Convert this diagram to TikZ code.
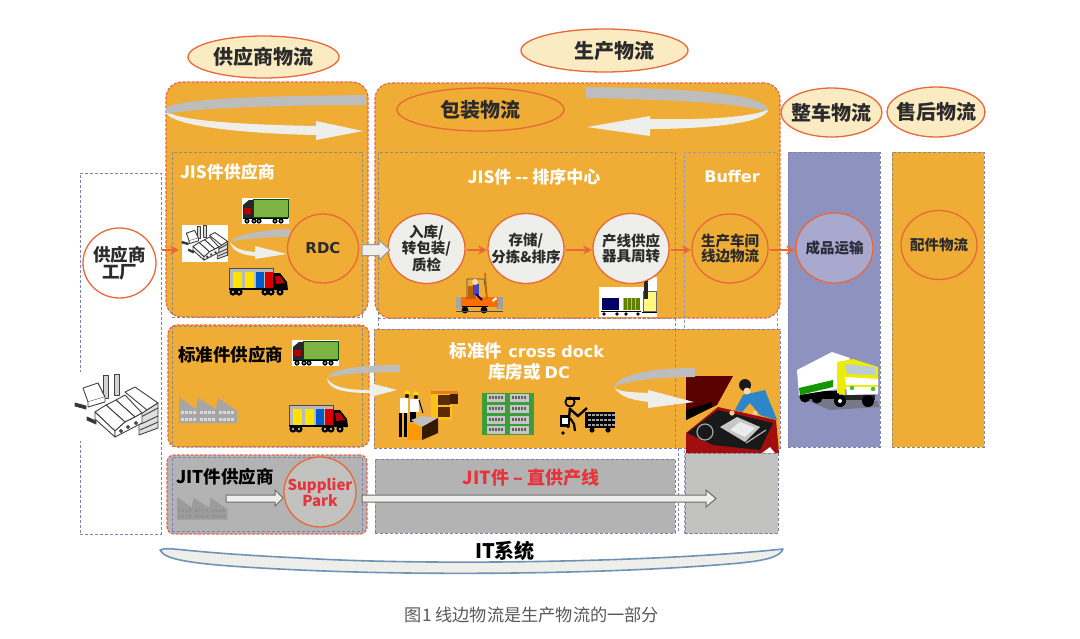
\documentclass[tikz,border=0pt]{standalone}
\usepackage{fontspec}
\setmainfont{Noto Sans CJK SC}
\newfontfamily\latinb{DejaVu Sans}
\usetikzlibrary{shapes.geometric,calc,arrows.meta}
\definecolor{gold}{HTML}{EFAD35}
\definecolor{redline}{HTML}{E8654A}
\definecolor{ringc}{HTML}{E9683A}
\definecolor{cream}{HTML}{FBEBC2}
\definecolor{violetbox}{HTML}{8E92BF}
\definecolor{violetc}{HTML}{A9A9D0}
\definecolor{bluedash}{HTML}{7C80B4}
\definecolor{greydash}{HTML}{8D8A80}
\definecolor{swirlg}{HTML}{BDBDBD}
\definecolor{swirll}{HTML}{EEEEEA}
\definecolor{jitg}{HTML}{B3B3B3}
\definecolor{jitr}{HTML}{C2C2C0}
\definecolor{inkc}{HTML}{2B2B2B}
\definecolor{redtext}{HTML}{E5343C}
\definecolor{itblue}{HTML}{6F93B5}
\definecolor{truckgreen}{HTML}{7CB342}
\newcommand{\fs}[1]{\fontsize{#1}{#1}\selectfont}
% ring node (fixed size) with its text in a companion node
\newcommand{\ringn}[6]{%
 \node[#1,minimum width=#4,minimum height=#5] (#2) at (#3) {};
 \node[#1,shape=rectangle,draw=none,fill=none,minimum width=0pt,minimum height=0pt] (#2t) at (#3) {#6};}
\tikzset{
 x=1pt,y=-1pt,
 base/.style={inner sep=0pt,outer sep=0pt},
 headell/.style={base,ellipse,draw=ringc,line width=1.3pt,fill=cream,font=\fs{20}\bfseries,text=inkc},
 goldbox/.style={base,rectangle,fill=gold,draw=redline,line width=1.2pt,dash pattern=on 3pt off 1.5pt,rounded corners=16pt},
 inner/.style={base,rectangle,draw=greydash,line width=.8pt,dash pattern=on 3pt off 2pt},
 plainbox/.style={base,rectangle,draw=bluedash,line width=.9pt,dash pattern=on 3pt off 2pt},
 step circle/.style={base,ellipse,draw=ringc,line width=1.3pt,fill=swirll,align=center,font=\fs{14.5}\bfseries,text=inkc},
 gold circle/.style={step circle,fill=gold,text=inkc},
 whitelabel/.style={base,text=white,font=\fs{17.5}\bfseries,align=center},
 blacklabel/.style={base,text=black,font=\fs{17.5}\bfseries},
 oarrow/.style={draw=ringc,line width=1.4pt,shorten >=1pt,shorten <=2pt,-{Stealth[length=9pt,width=9pt]}},
 blockarrow/.style={fill=swirll,draw=gray!85!black,line width=1pt,line join=miter},
 sawfac/.pic={
  \fill[sawcol] (0,26) -- (0,0) -- (17,12) -- (19,1) -- (37,12) -- (39,1) -- (58,14) -- (58,26) -- cycle;
  \foreach \r in {14,21}{\foreach \c in {2,6,10,14,21,25,29,33,40,44,48,52}{
    \fill[sawwin] (\c,\r) rectangle ++(2.6,3.4);}}
 },
 greentruck/.pic={
  \fill[white] (0,0) rectangle (47,26);
  \draw[fill=truckgreen,draw=black!70!green,line width=.8pt] (11,1) rectangle (46,19);
  \fill[black!85] (1,7) -- (7,2) -- (11,2) -- (11,20) -- (1,20) -- cycle;
  \fill[red!70!black] (2,10) rectangle (9,16);
  \fill[black] (1,19.5) rectangle (46,21);
  \foreach \w in {5,12,17,33,39}{\fill[black] (\w,23) circle (2.6); \fill[white] (\w,23) circle (.9);}
 },
 multitruck/.pic={
  \draw[fill=gray!55,draw=black!70,line width=1pt] (1,1) rectangle (45,21);
  \fill[yellow!85!orange] (5,5) rectangle (14,21);
  \fill[yellow!85!orange] (17,5) rectangle (26,21);
  \fill[blue!55!cyan!80!black] (28,5) rectangle (36,21);
  \fill[red!85!black] (37,5) rectangle (45,21);
  \fill[black] (45,6) -- (52,6) -- (59,15) -- (60,23) -- (45,23) -- cycle;
  \fill[red!75!black] (47,9) -- (52,9) -- (57,16) -- (48,17) -- cycle;
  \fill[black] (1,21) rectangle (46,23);
  \foreach \w in {5,11,37,43,52}{\fill[black] (\w,25) circle (3.6); \fill[gray!60] (\w,25) circle (1.4);}
 },
 bigfac/.pic={
  \tikzset{every path/.append style={draw=black!75,line width=.9pt,fill=white,line join=round}}
  \path[fill=gray!35] (28.3,23) -- (28.3,0) -- (33.3,0) -- (33.3,23) -- cycle;
  \path[fill=gray!35] (39.3,20) -- (39.3,-1) -- (44.3,-1) -- (44.3,20) -- cycle;
  \path (8,13) -- (23,8) -- (30,22) -- (13,27) -- cycle;
  \path (13,27) -- (13,32) -- (30,27) -- (30,22);
  \path[fill=white] (50,17) -- (60,12) -- (83,28) -- (72,35) -- cycle;
  \path[fill=gray!25] (72,35) -- (83,28) -- (83,53) -- (64,60) -- (64,40) -- cycle;
  \path (66,42) -- (83,33);
  \path (66,49) -- (83,41);
  \path (65,55) -- (83,47);
  \path (41,25) -- (50,20) -- (67,38) -- (60,42) -- cycle;
  \path (31,30) -- (41,25) -- (60,42) -- (50,47) -- cycle;
  \path (20,37) -- (31,30) -- (50,47) -- (40,56) -- cycle;
  \path (20,37) -- (40,56) -- (40,62) -- (20,44) -- cycle;
  \path (40,56) -- (50,47) -- (60,42) -- (67,38) -- (67,48) -- (40,62) -- cycle;
  \foreach \a/\b in {46/56,53/52,61/48}{\path[fill=black!60] (\a,\b) circle (1.5);}
  \path[fill=black!80] (0,28) -- (11,31) -- (11,34) -- (0,31) -- cycle;
  \path[fill=black!80] (12,42) -- (21,46) -- (21,49) -- (12,45) -- cycle;
 },
 forklift/.pic={
  \fill[gray!70] (0,24) rectangle (5,36);
  \fill[gray!75] (40,24) rectangle (47,36);
  \fill[orange!85!red] (5,24) rectangle (42,34);
  \fill[orange!75!black] (12,13) rectangle (20,26);
  \draw[black!70,line width=.8pt] (11,26) -- (11,6) -- (28,6) -- (31,26);
  \draw[orange!80!black,line width=1.6pt] (29,0) -- (31,26);
  \fill[blue!45!gray] (17,11) rectangle (23,22);
  \fill[orange!30!white] (19,9) circle (3);
  \draw[blue!50!black,line width=2pt] (20,21) -- (26,27);
  \fill[white] (36,27) -- (40,24) -- (41,26) -- (37,29) -- cycle;
  \fill[black] (9,37) circle (3.4);
  \fill[black] (28,37) circle (3.4);
  \fill[black!70] (0,38) rectangle (47,39);
  \draw[black,line width=.8pt] (6,33) -- (32,33);
 },
 palletcart/.pic={
  \fill[white] (0,10) rectangle (58,40);
  \fill[white] (46,0) rectangle (58,10);
  \fill[blue!40!black] (3,21) rectangle (20,33);
  \fill[lime!50!black] (24,21) rectangle (41,33);
  \foreach \c in {24,28,32,36}{\draw[yellow!60!olive,line width=.5pt] (\c,21) -- (\c,33);}
  \draw[black,line width=.8pt] (2,34) -- (42,34);
  \foreach \w in {5,18,27,39}{\fill[black] (\w,37) circle (1.8);}
  \fill[yellow!50!white] (44,14) rectangle (57,34);
  \draw[black!60,line width=.6pt] (44,14) rectangle (57,34);
  \fill[black] (47,4) circle (2.2);
  \fill[black!85] (45,6) rectangle (49,22);
  \draw[black,line width=.8pt] (43,35) -- (58,35);
 },
 workers/.pic={
  \fill[orange!55!yellow!90!white] (33,3) rectangle (54,30);
  \fill[black!65!orange] (40,5) rectangle (52,15);
  \fill[black!65!orange] (40,17) rectangle (52,27);
  \fill[black!75!orange] (52,2) rectangle (60,14);
  \fill[orange!60!brown] (33,1) rectangle (60,4);
  \fill[yellow!85!orange] (9,3) circle (2.6);
  \fill[yellow!85!orange] (18,4) circle (2.6);
  \fill[black!80!orange] (9,6) circle (2.2);
  \fill[black!80!orange] (18,7) circle (2.2);
  \fill[white] (2,8) rectangle (10,23);
  \fill[white] (12,9) rectangle (21,22);
  \fill[black] (1,23) rectangle (4,47);
  \fill[black] (6,23) rectangle (9,47);
  \fill[black] (12,22) rectangle (18,32);
  \draw[black,line width=1pt] (21,10) -- (25,23);
  \fill[gray!50] (13,30) -- (24,26) -- (40,28) -- (24,37) -- cycle;
  \fill[orange!80!yellow] (10,32) -- (24,37) -- (24,50) -- (10,50) -- cycle;
  \fill[black!80!orange] (24,37) -- (40,28) -- (40,43) -- (24,50) -- cycle;
 },
 shelves/.pic={
  \fill[green!45!gray!85!black] (0,0) rectangle (52,42);
  \foreach \r in {1,12,23,33}{
   \fill[gray!45] (5,\r) rectangle (23,\r+8);
   \fill[gray!45] (28,\r) rectangle (47,\r+8);
   \foreach \c in {7,10,13,16,19,30,33,36,39,42}{\fill[gray!75!black] (\c,\r+2) rectangle ++(2,3);}
  }
 },
 cartman/.pic={
  \draw[black,line width=1.8pt] (10,6) circle (4.6);
  \fill[black] (6,1) rectangle (20,4);
  \draw[black,line width=2.4pt] (10,12) -- (8,32);
  \draw[black,line width=2.4pt] (10,13) -- (18,20) -- (27,12);
  \draw[black,line width=2.2pt] (10,22) -- (14,28) -- (15,35);
  \fill[black] (0,19) rectangle (10,31);
  \fill[white] (2,22) rectangle (8,28);
  \fill[black] (3,37) circle (1.8);
  \fill[black] (25,16) rectangle (55,32);
  \foreach \r in {18,23,28}{\foreach \c in {28,32,...,52}{\fill[gray!75] (\c,\r) rectangle ++(3,2.4);}}
  \fill[black] (32,34) circle (2.6);
  \fill[black] (48,34) circle (2.6);
 },
 mechanic/.pic={
  \fill[red!65!black!90!gray] (0,58) -- (32,32) -- (90,45) -- (93,78) -- (0,78) -- cycle;
  \fill[red!35!black] (0,1) -- (47,1) -- (31,30) -- (0,45) -- cycle;
  \fill[black] (0,35) -- (26,27) -- (26,32) -- (0,45) -- cycle;
  \fill[black!90] (1,58) -- (32,35) -- (87,48) -- (74,75) -- (27,70) -- cycle;
  \fill[gray!45] (34,52) -- (51,42) -- (74,52) -- (59,67) -- cycle;
  \fill[white!85!gray] (44,55) -- (54,47) -- (69,53) -- (59,62) -- cycle;
  \draw[gray!70,line width=1.2pt] (19,57) circle (8);
  \draw[gray!60,line width=1.2pt] (60,68) -- (80,55);
  \fill[white!92!gray] (76,78) -- (84,72) -- (89,78) -- cycle;
  \fill[cyan!65!blue!85!gray] (49,35) -- (57,20) -- (66,18) -- (79,15) -- (91,45) -- (74,40) -- (64,28) -- (56,37) -- cycle;
  \fill[black!90] (59,10) circle (6);
  \fill[orange!30!white] (61,16) circle (3.4);
  \fill[orange!40!white] (46,38) circle (2.6);
  \fill[orange!40!white] (69,38) circle (2.4);
 },
 whitetruck/.pic={
  \fill[black!60,opacity=.6] (3,46) -- (20,44) -- (83,50) -- (84,56) -- (35,59) -- cycle;
  \fill[black] (6,40) rectangle (44,48);
  \fill[black] (10,46) circle (5.5);
  \fill[black] (22,47) circle (5.5);
  \fill[white] (2,19) -- (37,1) -- (55,7) -- (42,35) -- (42,38) -- (4,44) -- cycle;
  \fill[green!55!black!90!lime] (4,37) -- (38,29) -- (38,36) -- (5,44) -- cycle;
  \fill[black!85] (46,44) rectangle (80,49);
  \fill[black] (45,50) circle (6); \fill[white] (45,50) circle (2);
  \fill[black] (73,50) circle (6);
  \fill[yellow!70!lime] (42,11) -- (58,8) -- (83,16) -- (83,35) -- (50,38) -- (50,44) -- (42,42) -- cycle;
  \fill[cyan!25!gray!50] (50,13) -- (80,16) -- (80,24) -- (52,23) -- cycle;
  \fill[white] (50,26) -- (83,28) -- (83,43) -- (52,44) -- cycle;
  \fill[yellow!70!lime] (50,34) rectangle (83,36);
  \fill[green!50!gray] (57,37) circle (2.2);
  \fill[green!50!gray] (78,38) circle (2.2);
 }
}
\begin{document}
\begin{tikzpicture}
\useasboundingbox (0,0) rectangle (1080,638);
\fill[white] (0,0) rectangle (1080,638);

% plain factory frame
\node[plainbox,minimum width=81,minimum height=361] (fbox) at (120.5,353.5) {};
\fill[white] (76,372) rectangle (160,441);

% gold groups
\node[goldbox,minimum width=202,minimum height=235] (supbox) at (267,199.5) {};
\node[goldbox,minimum width=405,minimum height=235] (prodbox) at (577.5,200.5) {};
\node[goldbox,rounded corners=9pt,minimum width=201,minimum height=122] (stdbox) at (268.5,386) {};
\node[goldbox,fill=jitg,rounded corners=7pt,minimum width=200,minimum height=79] (jitbox) at (267,494.5) {};

% inner dashed
\node[inner,minimum width=190,minimum height=165] (jisin) at (267,234.5) {};
\node[inner,minimum width=190,minimum height=120] (stdin) at (267,386) {};
\node[plainbox,minimum width=190,minimum height=74] (jitin) at (267,494) {};
\node[inner,minimum width=297,minimum height=166] (jiscen) at (526.5,235) {};
\node[plainbox,draw=bluedash!80!white,minimum width=93,minimum height=381] (bufbox) at (730.5,342.5) {};

% centre bottom blocks
\node[base,rectangle,fill=gold,draw=bluedash,line width=.9pt,dash pattern=on 3pt off 2pt,minimum width=406,minimum height=119] (stdcen) at (577,388.5) {};
\node[plainbox,fill=jitg,minimum width=300,minimum height=74] (jitcen) at (525,496) {};
\node[plainbox,fill=jitr,minimum width=93,minimum height=80] (jitrgt) at (731.5,493) {};
\draw[draw=greydash,line width=.8pt,dash pattern=on 3pt off 2pt] (675,329) -- (675,448);
\draw[draw=bluedash,line width=.8pt,dash pattern=on 3pt off 2pt] (678,448) -- (678,533);
\draw[draw=bluedash,line width=.8pt,dash pattern=on 3pt off 2pt] (378,318) -- (378,329);
\draw[draw=bluedash,line width=.8pt,dash pattern=on 3pt off 2pt] (675,318) -- (675,329);

% right columns
\node[plainbox,fill=violetbox,minimum width=92,minimum height=295] (finbox) at (834,299.5) {};
\node[inner,fill=gold,minimum width=92,minimum height=295] (aftbox) at (938,299.5) {};

% header ellipses
\ringn{headell}{h1}{263.5,57}{151}{42}{供应商物流}
\ringn{headell}{h2}{604.5,50.5}{167}{43}{\hspace*{20pt}生产物流}
\ringn{headell,fill=gold}{h3}{480.5,109.5}{167}{43}{包装物流}
\ringn{headell}{h4}{831.5,112.5}{101}{49}{整车物流}
\ringn{headell}{h5}{936,112}{98}{50}{售后物流}

% swirls
\fill[swirlg] (366,95) .. controls (270,96) and (180,98) .. (166,108) -- (166,114) .. controls (195,108) and (280,105) .. (366,105) -- cycle;
\fill[swirll] (166,113) .. controls (175,128) and (260,134) .. (316,135) -- (316,140) -- (363,131) -- (316,121) -- (316,126) .. controls (260,125) and (190,122) .. (172,114) -- cycle;

\fill[swirlg] (586,87) .. controls (690,88) and (772,94) .. (768,112) .. controls (745,103) and (660,99) .. (586,98) -- cycle;
\fill[swirll] (768,110) .. controls (765,124) and (700,129) .. (650,129) -- (650,136) -- (587,127) -- (650,116) -- (650,119) .. controls (700,120) and (745,118) .. (768,110) -- cycle;

\fill[swirlg] (290,229) .. controls (260,230) and (235,235) .. (230,242) .. controls (240,239) and (265,237) .. (290,237) -- cycle;
\fill[swirll] (230,242) .. controls (236,250) and (245,251) .. (255,252) -- (255,246) -- (287,254) -- (255,259) -- (255,256) .. controls (240,255) and (232,250) .. (230,242) -- cycle;

\fill[swirlg] (400,365) .. controls (365,365) and (332,368) .. (327,378) .. controls (340,374) and (370,372) .. (400,372) -- cycle;
\fill[swirll] (327,378) .. controls (332,388) and (350,390) .. (370,390) -- (370,383) -- (397,390) -- (370,397) -- (370,393) .. controls (345,393) and (328,390) .. (327,378) -- cycle;

% images
\pic at (242,198) {greentruck};
\pic at (228,267) {multitruck};
\fill[white] (182,225) rectangle (228,262);
\pic[scale=.55] at (182,226) {bigfac};
\pic at (292,340) {greentruck};
\pic at (288,404) {multitruck};
\colorlet{sawcol}{gray!70}\colorlet{sawwin}{gray!30}
\pic at (179,397) {sawfac};
\colorlet{sawcol}{gray!45!jitg}\colorlet{sawwin}{gray!85}
\pic[scale=.87] at (177,497) {sawfac};
\pic at (75,375) {bigfac};
\pic at (456,273) {forklift};
\pic at (599,277) {palletcart};
\pic at (398,390) {workers};
\pic at (482,393) {shelves};
\pic at (560,396) {cartman};
\pic at (686,375) {mechanic};
\pic at (795,351) {whitetruck};

% right swirl on top of picture
\fill[swirlg] (695,368) .. controls (650,368) and (620,374) .. (614,387) .. controls (628,380) and (660,377) .. (695,377) -- cycle;
\fill[swirll] (614,387) .. controls (620,398) and (635,400) .. (648,402) -- (648,408) -- (694,402) -- (648,390) -- (648,393) .. controls (630,392) and (618,392) .. (614,387) -- cycle;

% circles
\ringn{gold circle,font=\fs{15}\bfseries\latinb}{rdc}{323,248.5}{71}{69}{RDC}
\ringn{step circle,fill=white,font=\fs{17.5}\bfseries}{plant}{119.5,263}{73}{70}{供应商\\工厂}
\ringn{step circle}{c1}{426.5,248.5}{77}{70}{入库/\\转包装/\\质检}
\ringn{step circle}{c2}{526,248.5}{76}{70}{存储/\\分拣\&排序}
\ringn{step circle}{c3}{631,248.5}{76}{70}{产线供应\\器具周转}
\ringn{gold circle}{c4}{730,248.5}{76}{69}{生产车间\\线边物流}
\ringn{step circle,fill=violetc,text=black!70!violetbox}{c5}{834.5,248}{77}{70}{成品运输}
\ringn{gold circle}{c6}{939,245}{76}{69}{配件物流}
\ringn{step circle,fill=jitr,text=redtext,font=\fs{15}\bfseries}{park}{320,492}{72}{70}{Supplier\\Park}

% small factory target
\coordinate (facin) at (180,250);
\coordinate (plantout) at (160,250);
\draw[oarrow] (plantout) -- (facin);
\draw[oarrow] (c1.east |- 0,250) -- (c2.west |- 0,250);
\draw[oarrow] (c2.east |- 0,250) -- (c3.west |- 0,250);
\draw[oarrow] (c3.east |- 0,250) -- (c4.west |- 0,250);
\draw[oarrow] (c4.east |- 0,250) -- (c5.west |- 0,250);

% block arrows
\path[blockarrow,draw=swirlg!80!black] (362,244.5) -- (379,244.5) -- (379,240) -- (390,250) -- (379,260) -- (379,255.5) -- (362,255.5) -- cycle;
\path[blockarrow] (226,495) -- (275,495) -- (275,490) -- (283,498) -- (275,506) -- (275,502) -- (226,502) -- cycle;
\path[blockarrow] (362,495) -- (706,495) -- (706,490) -- (716,498.5) -- (706,507) -- (706,502) -- (362,502) -- cycle;

% labels
\node[whitelabel,font=\fs{17}\bfseries,anchor=west] (t1) at (180,172) {JIS件供应商};
\node[whitelabel,font=\fs{17}\bfseries] (t2) at (534,177) {JIS件 -{}- 排序中心};
\node[whitelabel,font=\fs{16}\bfseries\latinb] (t3) at (732,177) {Buffer};
\node[blacklabel,anchor=west] (t4) at (178,355) {标准件供应商};
\node[blacklabel,anchor=west] (t5) at (176,477) {JIT件供应商};
\node[whitelabel] (t6) at (527,351) {标准件\hspace{6pt}{\latinb\fs{16}\bfseries cross dock}};
\node[whitelabel] (t7) at (529,372) {库房或 {\latinb\fs{16}\bfseries DC}};
\node[whitelabel,text=redtext,font=\fs{18}\bfseries] (t8) at (531,478) {JIT件 – 直供产线};

% IT band
\path[fill=swirll,draw=itblue,line width=1.6pt,line join=round] (160,550) .. controls (170,546) and (175,552) .. (300,558) .. controls (430,566) and (660,562) .. (783,549) .. controls (780,556) and (770,560) .. (740,563) .. controls (620,574) and (430,576) .. (300,570) .. controls (190,565) and (165,560) .. (160,550) -- cycle;
\node[base,font=\fs{20}\bfseries,text=black] (it) at (505,551) {IT系统};

% caption
\node[base,font=\fs{17.2},text=black!65] (cap) at (532,615) {图1 线边物流是生产物流的一部分};
\end{tikzpicture}
\end{document}
